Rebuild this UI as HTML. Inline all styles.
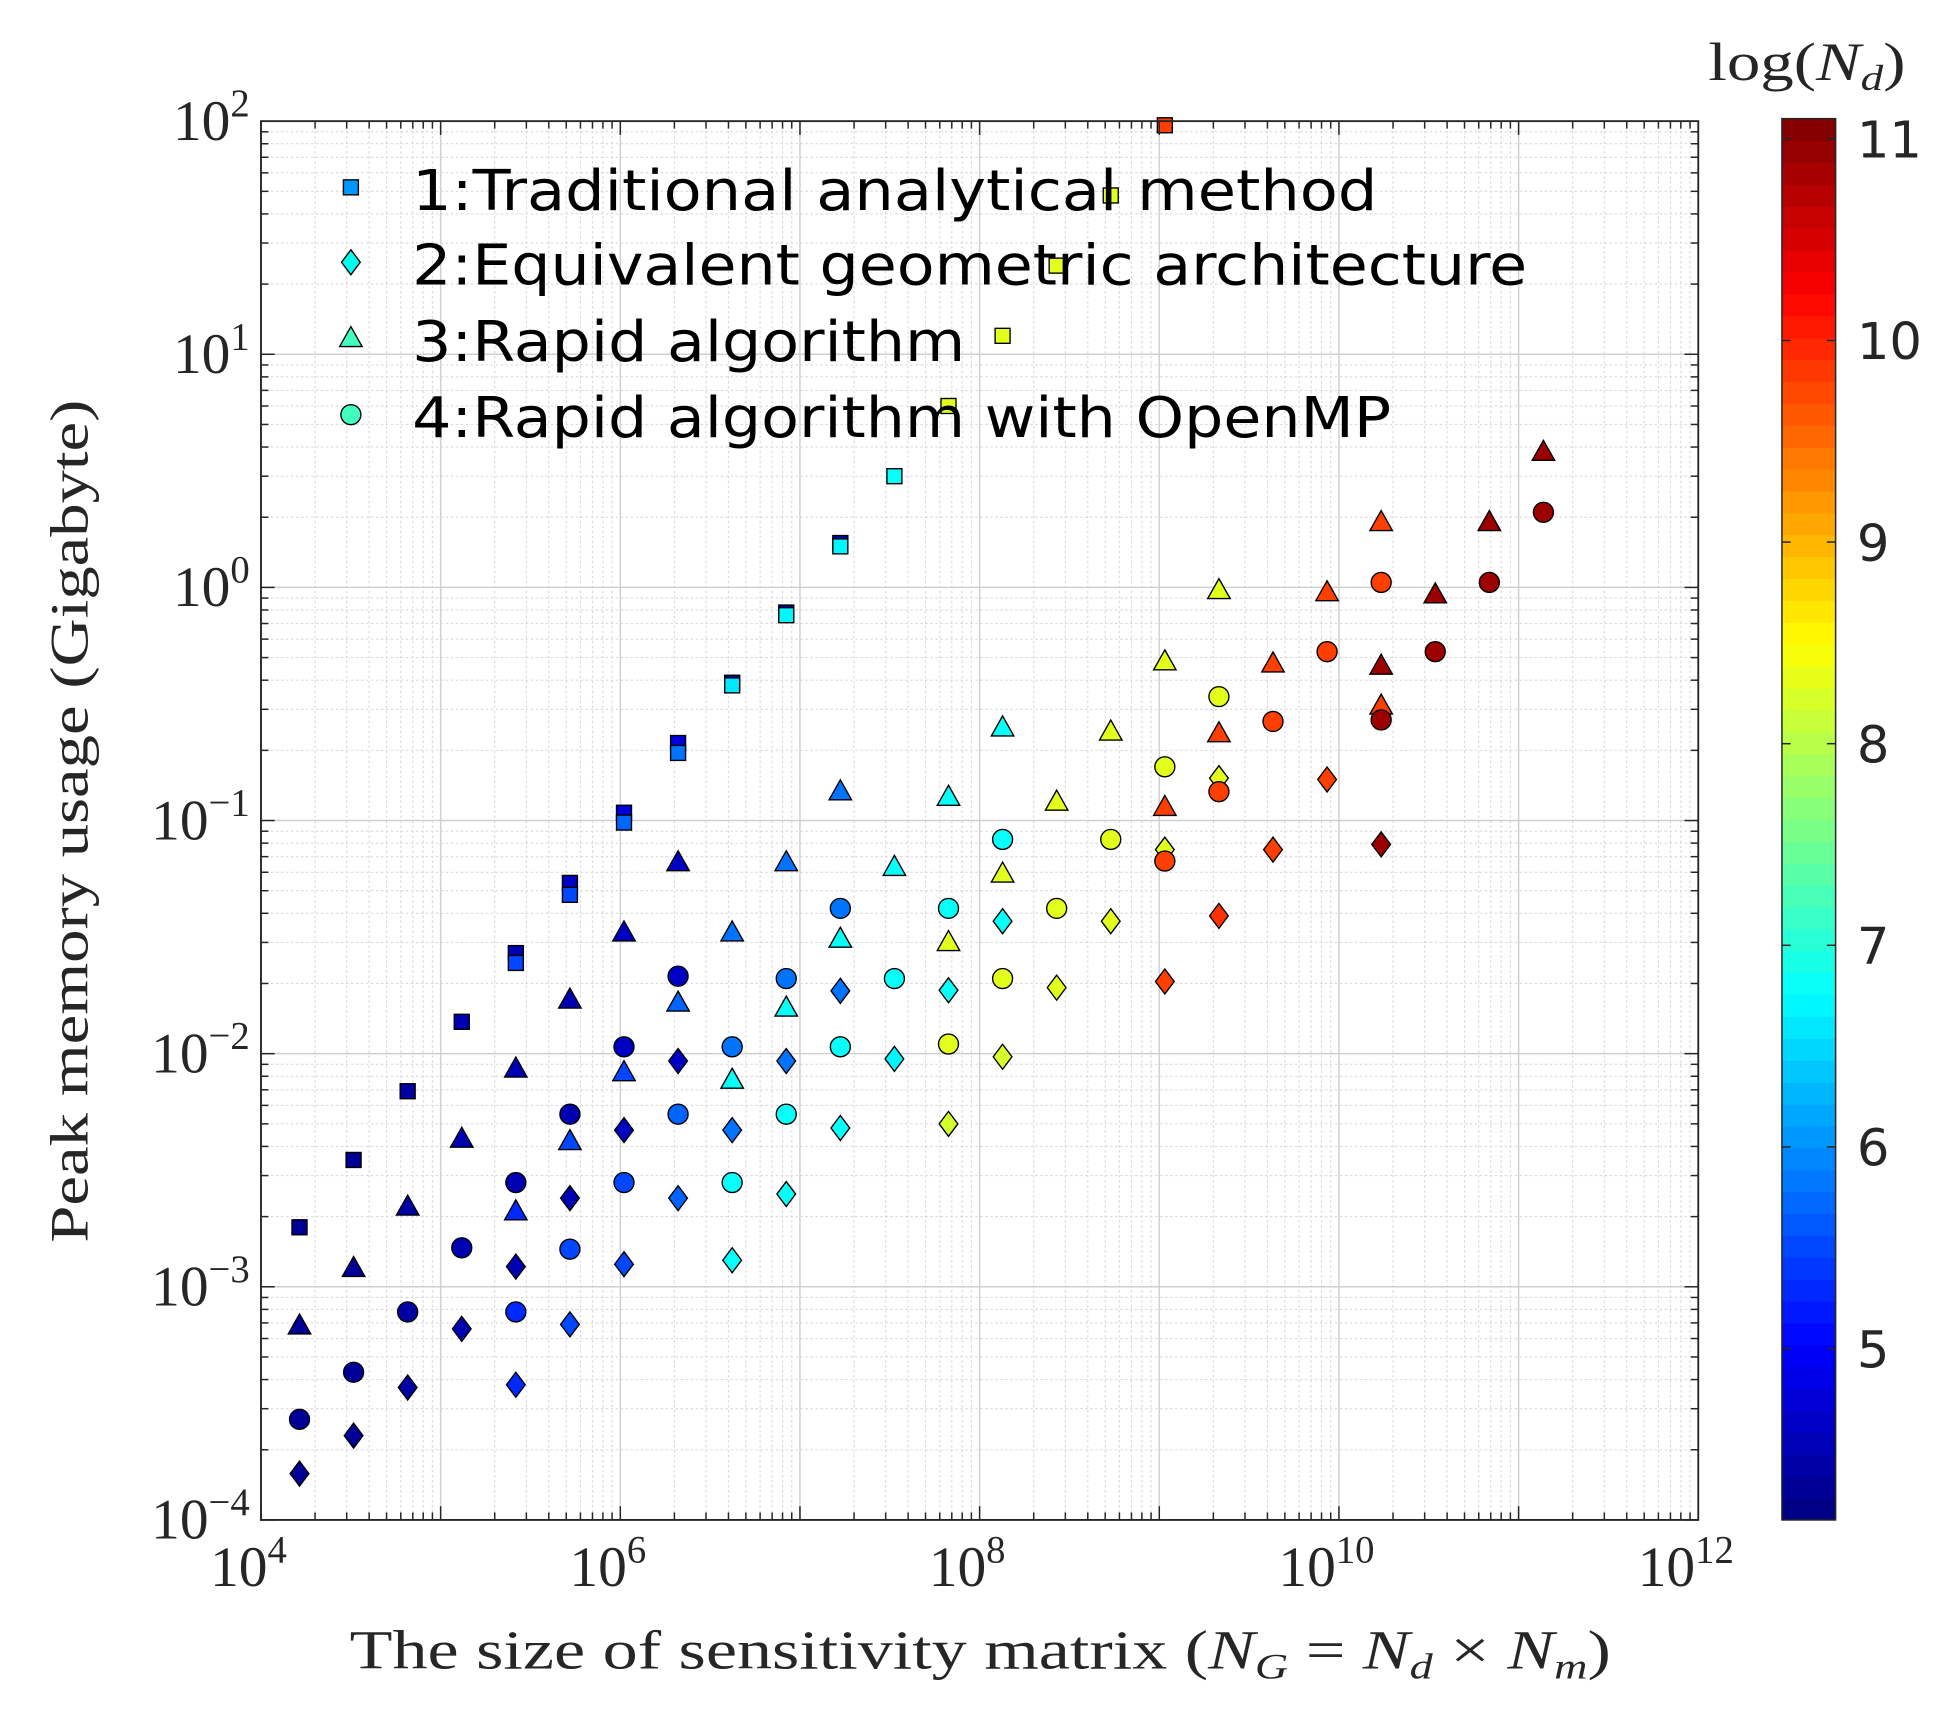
<!DOCTYPE html>
<html><head><meta charset="utf-8"><style>
html,body{margin:0;padding:0;background:#fff;}
svg{display:block;}
</style></head><body>
<svg id="chart" width="1958" height="1726" viewBox="0 0 1568 1382" preserveAspectRatio="none" xmlns="http://www.w3.org/2000/svg">
<g id="grid"></g>
<g id="marks"></g>
<rect x="209" y="97" width="1151" height="1120" fill="none" stroke="#262626" stroke-width="1.5"/>
<g id="ticks"></g>
<g id="legend"></g>
<g id="cbar"></g>
<text x="280" y="1336" textLength="1010" lengthAdjust="spacingAndGlyphs" font-family="Liberation Serif, serif" font-size="44" fill="#262626">The size of sensitivity matrix (<tspan font-style="italic">N</tspan><tspan font-size="29" font-style="italic" dy="8">G</tspan><tspan dy="-8"> = </tspan><tspan font-style="italic">N</tspan><tspan font-size="29" font-style="italic" dy="8">d</tspan><tspan dy="-8"> × </tspan><tspan font-style="italic">N</tspan><tspan font-size="29" font-style="italic" dy="8">m</tspan><tspan dy="-8">)</tspan></text>
<text transform="translate(70,995) rotate(-90)" textLength="675" lengthAdjust="spacingAndGlyphs" font-family="Liberation Serif, serif" font-size="43" fill="#262626">Peak memory usage (Gigabyte)</text>
<text x="1368" y="64" textLength="158" lengthAdjust="spacingAndGlyphs" font-family="Liberation Serif, serif" font-size="43" fill="#262626">log(<tspan font-style="italic">N</tspan><tspan font-size="29" font-style="italic" dy="8">d</tspan><tspan dy="-8">)</tspan></text>
</svg>
<script>
// data: x = 2^k (N_G), memory in GB, colour = log(N_d)
const sqK=[14,15,16,17,18,18,19,19,20,20,21,21,22,22,23,23,24,24,25,26,27,28,29,30];
const sqY=[0.0018,0.0035,0.0069,0.0137,0.027,0.0245,0.054,0.048,0.108,0.098,0.215,0.195,0.39,0.38,0.78,0.76,1.55,1.5,3.0,6.0,12,24,48,96];
const sqC=[4.3,4.3,4.4,4.5,4.5,5.5,4.6,5.5,4.8,5.7,4.8,5.8,4.5,6.6,4.5,6.7,4.5,6.7,6.8,8.3,8.3,8.3,8.3,9.8];
const dmK=[14,15,16,17,18,18,19,19,20,20,21,21,22,22,23,23,24,24,25,26,26,27,27,28,29,30,30,31,31,32,33,34];
const dmY=[0.000158,0.00023,0.00037,0.00066,0.00122,0.00038,0.0024,0.00069,0.0047,0.00125,0.0093,0.0024,0.0047,0.0013,0.0093,0.0025,0.0186,0.0048,0.0095,0.0187,0.005,0.037,0.0097,0.0192,0.037,0.0204,0.075,0.039,0.152,0.075,0.15,0.079];
const dmC=[4.3,4.3,4.4,4.5,4.5,5.3,4.5,5.5,4.6,5.5,4.6,5.7,5.8,6.8,5.8,6.8,5.8,6.8,6.7,6.8,8.2,6.8,8.2,8.3,8.3,9.8,8.3,9.9,8.3,9.8,9.8,10.9];
const trK=[14,15,16,17,18,18,19,19,20,20,21,21,22,22,23,23,24,24,25,26,26,27,27,28,29,30,30,31,31,32,33,34,34,34,35,36,37];
const trY=[0.00068,0.0012,0.0022,0.0043,0.0086,0.0021,0.017,0.0042,0.033,0.0083,0.066,0.0165,0.033,0.0077,0.066,0.0157,0.133,0.031,0.063,0.126,0.030,0.25,0.059,0.12,0.24,0.48,0.114,0.97,0.236,0.47,0.95,1.9,0.46,0.31,0.93,1.9,3.8];
const trC=[4.3,4.3,4.4,4.5,4.5,5.3,4.5,5.5,4.6,5.5,4.6,5.7,5.8,6.8,5.8,6.8,5.8,6.8,6.8,6.8,8.3,6.8,8.3,8.3,8.3,8.3,9.8,8.3,9.8,9.8,9.8,9.8,10.9,9.8,10.9,10.9,10.9];
const ciK=[14,15,16,17,18,18,19,19,20,20,21,21,22,22,23,23,24,24,25,26,26,27,27,28,29,30,30,31,31,32,33,34,34,35,36,37];
const ciY=[0.00027,0.00043,0.00078,0.00147,0.0028,0.00078,0.0055,0.00145,0.0107,0.0028,0.0215,0.0055,0.0107,0.0028,0.021,0.0055,0.042,0.0107,0.021,0.042,0.011,0.083,0.021,0.042,0.083,0.17,0.067,0.34,0.133,0.266,0.53,1.05,0.27,0.53,1.05,2.1];
const ciC=[4.3,4.3,4.4,4.5,4.5,5.3,4.5,5.5,4.6,5.5,4.6,5.7,5.8,6.8,5.8,6.8,5.8,6.8,6.8,6.8,8.3,6.8,8.3,8.3,8.3,8.3,9.8,8.3,9.8,9.8,9.8,9.8,10.9,10.9,10.9,10.9];
const xTicks=[4,6,8,10,12];
const yTicks=[-4,-3,-2,-1,0,1,2];
const cbTicks=[5,6,7,8,9,10,11];
const cMin=4.15,cMax=11.1;

const NS='http://www.w3.org/2000/svg';
const L=209,R=1360,T=97,B=1217;
function X(lx){return L+(lx-4)/8*(R-L);}
function Y(ly){return B-(ly+4)/6*(B-T);}
function CB(v){return 1217-(v-cMin)/(cMax-cMin)*(1217-95);}
function jet(v){
  let t=(v-cMin)/(cMax-cMin);t=Math.max(0,Math.min(1,t));
  const f=x=>Math.max(0,Math.min(1,x));
  const r=f(1.5-Math.abs(4*t-3)),g=f(1.5-Math.abs(4*t-2)),b=f(1.5-Math.abs(4*t-1));
  return `rgb(${Math.round(r*255)},${Math.round(g*255)},${Math.round(b*255)})`;
}
function mk(tag,attrs,parent){const e=document.createElementNS(NS,tag);for(const k in attrs)e.setAttribute(k,attrs[k]);parent.appendChild(e);return e;}

const grid=document.getElementById('grid');
for(let d=4;d<12;d++)for(let m=1;m<10;m++){
  const x=X(d+Math.log10(m));
  const ln=mk('line',{x1:x,x2:x,y1:T,y2:B,stroke:m===1?'#d0d0d0':'#dadada','stroke-width':m===1?1.2:0.9,'stroke-dasharray':m===1?'':'2,2'},grid);
  
  
}
for(let d=-4;d<2;d++)for(let m=1;m<10;m++){
  const y=Y(d+Math.log10(m));
  const ln=mk('line',{x1:L,x2:R,y1:y,y2:y,stroke:m===1?'#d0d0d0':'#dadada','stroke-width':m===1?1.2:0.9,'stroke-dasharray':m===1?'':'2,2'},grid);
  
  
}
const tk=document.getElementById('ticks');
for(let d=4;d<12;d++)for(let m=1;m<10;m++){
  const x=X(d+Math.log10(m));const len=m===1?11:6;
  mk('line',{x1:x,x2:x,y1:B,y2:B-len,stroke:'#262626','stroke-width':1.2},tk);
  mk('line',{x1:x,x2:x,y1:T,y2:T+len,stroke:'#262626','stroke-width':1.2},tk);
}
for(let d=-4;d<2;d++)for(let m=1;m<10;m++){
  const y=Y(d+Math.log10(m));const len=m===1?11:6;
  mk('line',{x1:L,x2:L+len,y1:y,y2:y,stroke:'#262626','stroke-width':1.2},tk);
  mk('line',{x1:R,x2:R-len,y1:y,y2:y,stroke:'#262626','stroke-width':1.2},tk);
}
xTicks.forEach(e=>{
  const t=mk('text',{x:X(e)-10,y:1270,'text-anchor':'middle','font-family':'Liberation Serif, serif','font-size':46,fill:'#262626'},tk);
  
  
  t.innerHTML=`10<tspan font-size="31" dy="-19">${e}</tspan>`;
});
yTicks.forEach(e=>{
  const lab=e<0?'\u2212'+(-e):''+e;
  const t=mk('text',{x:200,y:Y(e)+15,'text-anchor':'end','font-family':'Liberation Serif, serif','font-size':46,fill:'#262626'},tk);
  
  
  t.innerHTML=`10<tspan font-size="31" dy="-19">${lab}</tspan>`;
});
const g=document.getElementById('marks');
function marker(type,x,y,fill,parent){
  let e;
  if(type==='sq')e=mk('rect',{x:x-6,y:y-6,width:12,height:12},parent);
  else if(type==='dm')e=mk('polygon',{points:`${x},${y-10} ${x+7.5},${y} ${x},${y+10} ${x-7.5},${y}`},parent);
  else if(type==='tr')e=mk('polygon',{points:`${x},${y-9.5} ${x+9},${y+6.5} ${x-9},${y+6.5}`},parent);
  else e=mk('circle',{cx:x,cy:y,r:8},parent);
  e.setAttribute('fill',fill);e.setAttribute('stroke','#000');e.setAttribute('stroke-width','1.1');
  return e;
}
function series(type,K,V,C,name){
  K.forEach((k,i)=>{
    const e=marker(type,X(k*Math.log10(2)),Y(Math.log10(V[i])),jet(C[i]),g);
    
    
  });
}
series('dm',dmK,dmY,dmC,'method2-point');
series('tr',trK,trY,trC,'method3-point');
series('ci',ciK,ciY,ciC,'method4-point');
series('sq',sqK,sqY,sqC,'method1-point');
const lg=document.getElementById('legend');
const legItems=[['sq','#0096ff','1:Traditional analytical method',773],['dm','#00ffee','2:Equivalent geometric architecture',893],['tr','#40ffc0','3:Rapid algorithm',443],['ci','#40ffc0','4:Rapid algorithm with OpenMP',784]];
const legY=[152,212,273,334];
legItems.forEach((it,i)=>{
  const m=marker(it[0],281,legY[i]-2,it[1],lg);
  
  
  const t=mk('text',{x:330,y:legY[i]+16,'font-family':'DejaVu Sans, sans-serif','font-size':45,fill:'#000',textLength:it[3],lengthAdjust:'spacingAndGlyphs'},lg);
  
  
  t.textContent=it[2];
});
const cb=document.getElementById('cbar');
const N=64;
for(let i=0;i<N;i++){
  const v0=cMin+(cMax-cMin)*i/N,v1=cMin+(cMax-cMin)*(i+1)/N;
  const r=mk('rect',{x:1427,y:CB(v1),width:43,height:CB(v0)-CB(v1)+0.5,fill:jet((v0+v1)/2)},cb);
  
  
}
mk('rect',{x:1427,y:95,width:43,height:1122,fill:'none',stroke:'#262626','stroke-width':1.2},cb);
cbTicks.forEach(v=>{
  const y=CB(v);
  mk('line',{x1:1427,x2:1434,y1:y,y2:y,stroke:'#262626','stroke-width':1.2},cb);
  mk('line',{x1:1470,x2:1463,y1:y,y2:y,stroke:'#262626','stroke-width':1.2},cb);
  const t=mk('text',{x:1487,y:y+15,'font-family':'DejaVu Sans, sans-serif','font-size':41,fill:'#262626'},cb);
  
  
  t.textContent=v;
});
</script>
</body></html>
